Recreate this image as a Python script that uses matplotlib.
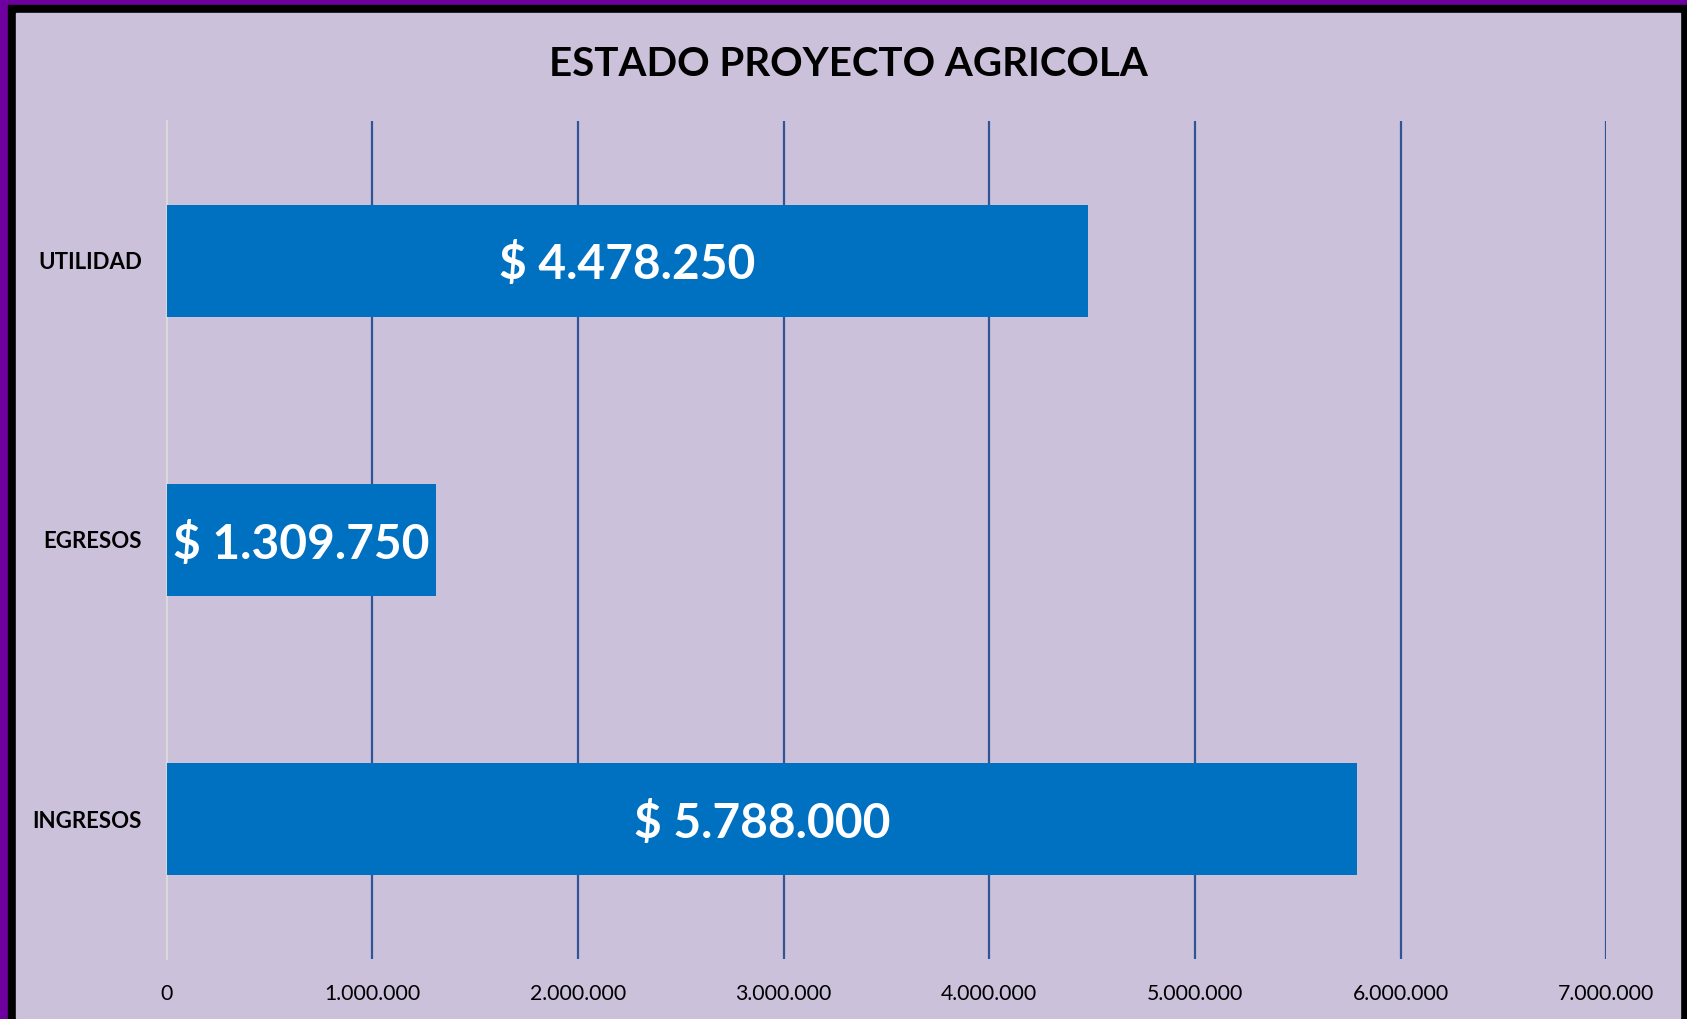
import matplotlib.pyplot as plt
from matplotlib.patches import Rectangle
from matplotlib.ticker import FuncFormatter

categories = ["INGRESOS", "EGRESOS", "UTILIDAD"]
values = [5788000, 1309750, 4478250]
x_ticks = [0, 1000000, 2000000, 3000000, 4000000, 5000000, 6000000, 7000000]


def miles(v, pos=None):
    # puntos como separador de miles
    return f"{int(v):,}".replace(",", ".")


plt.rcParams['font.family'] = ['Lato', 'DejaVu Sans']

W, H = 1687, 1019
fig = plt.figure(figsize=(W / 100, H / 100), dpi=100, facecolor='#6E00A0')

# marco negro y fondo lavanda (detras de los ejes)
fig.add_artist(Rectangle((8 / W, 0), (W - 8) / W, (H - 5) / H,
                         transform=fig.transFigure, color='black', zorder=-10))
fig.add_artist(Rectangle((16 / W, 1 / H), (1680 - 16) / W, (1018 - 13) / H,
                         transform=fig.transFigure, color='#CCC1DA', zorder=-9))

ax = fig.add_axes([166.8 / W, 60 / H, (1606.3 - 166.8) / W, (959 - 121) / H])
ax.set_facecolor('none')

bars = ax.barh(range(len(categories)), values, height=0.4, color='#0070C0', zorder=3)

for i, v in enumerate(values):
    ax.text(v / 2, i, "$ " + miles(v), ha='center', va='center_baseline',
            color='white', fontsize=34.5, fontweight='bold', zorder=4)

ax.set_xlim(0, 7000000)
ax.set_ylim(-0.5, 2.5)
ax.set_xticks(x_ticks)
ax.xaxis.set_major_formatter(FuncFormatter(miles))
ax.set_yticks(range(len(categories)))
ax.set_yticklabels(categories, fontweight='bold', fontsize=16)
ax.tick_params(axis='both', length=0)
ax.tick_params(axis='x', labelsize=15.3, pad=18)
ax.tick_params(axis='y', pad=18)

ax.grid(axis='x', color='#2F5597', linewidth=1.6, zorder=1)
ax.xaxis.get_gridlines()[0].set_visible(False)
for s in ['top', 'right', 'bottom']:
    ax.spines[s].set_visible(False)
ax.spines['left'].set_color('#D9D9D9')
ax.spines['left'].set_linewidth(1.5)

fig.text(848 / W, 1 - 64 / H, "ESTADO PROYECTO AGRICOLA", ha='center', va='center',
         fontsize=29, fontweight='bold', color='black')

fig.savefig("out.png", dpi=100, facecolor=fig.get_facecolor())
